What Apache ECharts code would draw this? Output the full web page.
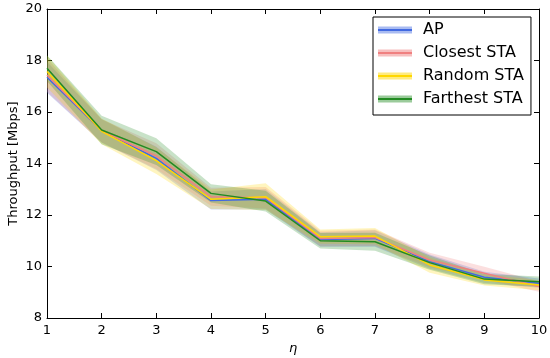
<!DOCTYPE html>
<html>
<head>
<meta charset="utf-8">
<script src="https://cdn.jsdelivr.net/npm/echarts@6/dist/echarts.min.js"></script>
<style>html,body{margin:0;padding:0;background:#fff}#c{width:550px;height:358px}</style>
</head>
<body>
<div id="c"></div>
<script>
var etaValues = [1, 2, 3, 4, 5, 6, 7, 8, 9, 10];
var seriesNames = ['AP', 'Closest STA', 'Random STA', 'Farthest STA'];
var apMean       = [17.35, 15.27, 14.20, 12.56, 12.61, 11.05, 11.09, 10.19, 9.58, 9.35];
var closestMean  = [17.44, 15.27, 14.29, 12.71, 12.67, 11.09, 11.12, 10.25, 9.74, 9.22];
var randomMean   = [17.57, 15.25, 14.11, 12.61, 12.71, 11.16, 11.18, 10.06, 9.48, 9.28];
var farthestMean = [17.70, 15.30, 14.46, 12.84, 12.54, 11.00, 10.96, 10.15, 9.51, 9.41];
var apStd        = [0.60, 0.45, 0.45, 0.35, 0.40, 0.28, 0.32, 0.28, 0.22, 0.18];
var closestStd   = [0.65, 0.45, 0.50, 0.35, 0.42, 0.30, 0.32, 0.28, 0.25, 0.20];
var randomStd    = [0.62, 0.50, 0.52, 0.38, 0.52, 0.28, 0.32, 0.30, 0.22, 0.20];
var farthestStd  = [0.50, 0.55, 0.52, 0.35, 0.40, 0.30, 0.35, 0.28, 0.20, 0.20];
var yTicks = [8, 10, 12, 14, 16, 18, 20];

var means = [apMean, closestMean, randomMean, farthestMean];
var stds = [apStd, closestStd, randomStd, farthestStd];
var lineColors = ['#4169e1', '#f08080', '#ffd700', '#228b22'];
var bandColors = ['rgba(65,105,225,0.25)', 'rgba(240,128,128,0.25)', 'rgba(255,215,0,0.25)', 'rgba(34,139,34,0.25)'];
var legendBandColors = ['rgba(65,105,225,0.45)', 'rgba(240,128,128,0.5)', 'rgba(255,215,0,0.5)', 'rgba(34,139,34,0.45)'];

var FONT = 'DejaVu Sans';
var series = [];
means.forEach(function (m, si) {
  var s = stds[si];
  series.push({
    type: 'custom',
    name: seriesNames[si] + ' band',
    silent: true,
    z: 1,
    data: etaValues.map(function (x, i) { return [x, m[i] - s[i], m[i] + s[i]]; }),
    renderItem: function (params, api) {
      if (params.dataIndex !== 0) return null;
      var upper = [], lower = [];
      for (var i = 0; i < etaValues.length; i++) {
        upper.push(api.coord([etaValues[i], m[i] + s[i]]));
        lower.unshift(api.coord([etaValues[i], m[i] - s[i]]));
      }
      return {
        type: 'polygon',
        shape: { points: upper.concat(lower) },
        style: { fill: bandColors[si], stroke: 'none' }
      };
    },
    encode: { x: 0, y: [1, 2] }
  });
});
means.forEach(function (m, si) {
  series.push({
    type: 'line',
    name: seriesNames[si],
    z: 3,
    symbol: 'none',
    lineStyle: { color: lineColors[si], width: 1.5 },
    itemStyle: { color: lineColors[si] },
    data: etaValues.map(function (x, i) { return [x, m[i]]; })
  });
});

var tickLabelStyle = { fontFamily: FONT, fontSize: 13, color: '#000' };
var option = {
  animation: false,
  backgroundColor: '#fff',
  grid: { left: 47, right: 11, top: 9, bottom: 40, containLabel: false, outerBoundsMode: 'none' },
  xAxis: [{
    type: 'value', min: 1, max: 10, interval: 1, position: 'bottom',
    name: 'η', nameLocation: 'middle', nameGap: 24, nameMoveOverlap: false,
    nameTextStyle: { fontFamily: FONT, fontSize: 13, fontStyle: 'italic', color: '#000' },
    axisLine: { show: true, onZero: false, lineStyle: { color: '#000', width: 1 } },
    axisTick: { show: true, inside: true, length: 5, lineStyle: { color: '#000' } },
    axisLabel: Object.assign({ margin: 6 }, tickLabelStyle),
    splitLine: { show: false }
  }, {
    type: 'value', min: 1, max: 10, interval: 1, position: 'top',
    axisLine: { show: true, onZero: false, lineStyle: { color: '#000', width: 1 } },
    axisTick: { show: true, inside: true, length: 5, lineStyle: { color: '#000' } },
    axisLabel: { show: false },
    splitLine: { show: false }
  }],
  yAxis: [{
    type: 'value', min: 8, max: 20, interval: 2, position: 'left',
    name: 'Throughput [Mbps]', nameLocation: 'middle', nameGap: 27, nameMoveOverlap: false,
    nameTextStyle: { fontFamily: FONT, fontSize: 13, color: '#000' },
    axisLine: { show: true, onZero: false, lineStyle: { color: '#000', width: 1 } },
    axisTick: { show: true, inside: true, length: 5, lineStyle: { color: '#000' } },
    axisLabel: Object.assign({ margin: 5, formatter: function (v) { return yTicks.indexOf(v) >= 0 ? String(v) : ''; } }, tickLabelStyle),
    splitLine: { show: false }
  }, {
    type: 'value', min: 8, max: 20, interval: 2, position: 'right',
    axisLine: { show: true, onZero: false, lineStyle: { color: '#000', width: 1 } },
    axisTick: { show: true, inside: true, length: 5, lineStyle: { color: '#000' } },
    axisLabel: { show: false },
    splitLine: { show: false }
  }],
  legend: [{
    orient: 'vertical', left: 373, top: 17,
    padding: [5, 7, 8, 5],
    borderColor: '#000', borderWidth: 1, backgroundColor: '#fff',
    itemWidth: 34, itemHeight: 7, itemGap: 7,
    icon: 'rect',
    selectedMode: false,
    textStyle: { fontFamily: FONT, fontSize: 16, color: '#000', lineHeight: 16, padding: [0, 0, 0, 6] },
    data: seriesNames.map(function (n, i) { return { name: n, icon: 'rect', itemStyle: { color: legendBandColors[i], borderWidth: 0 } }; })
  }, {
    orient: 'vertical', left: 373, top: 17,
    padding: [12, 0, 0, 5],
    itemWidth: 34, itemHeight: 2, itemGap: 21,
    icon: 'rect',
    selectedMode: false,
    z: 10,
    textStyle: { fontFamily: FONT, fontSize: 16, color: 'rgba(0,0,0,0)', lineHeight: 2, padding: 0 },
    formatter: function () { return ''; },
    data: seriesNames.map(function (n, i) { return { name: n, icon: 'rect', itemStyle: { color: lineColors[i], borderWidth: 0 } }; })
  }],
  series: series
};
var chart = echarts.init(document.getElementById('c'), null, { renderer: 'canvas' });
chart.setOption(option);
</script>
</body>
</html>
